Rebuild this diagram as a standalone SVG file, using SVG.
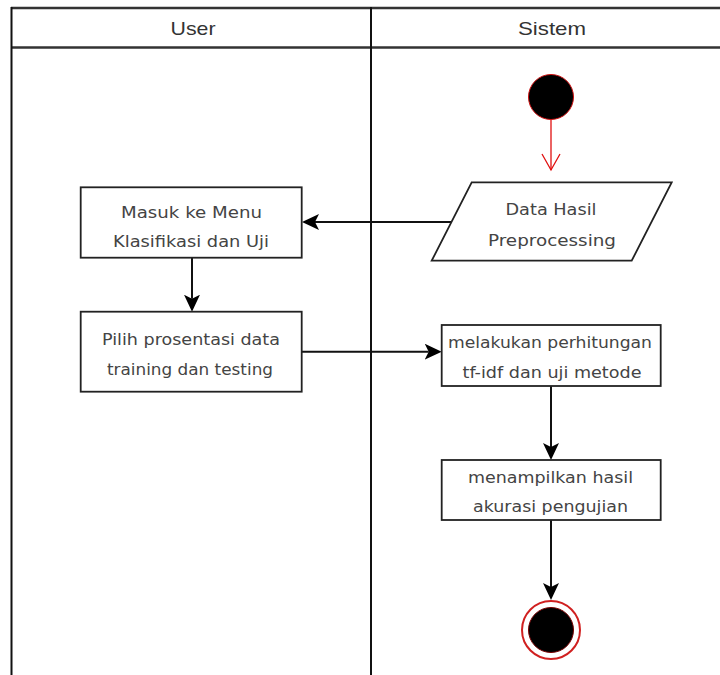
<svg xmlns="http://www.w3.org/2000/svg" width="720" height="675" viewBox="0 0 720 675">
<defs>
<style>
.lane{stroke:#111;stroke-width:2;fill:none}
.hdr{stroke:#333;stroke-width:2.5;fill:none}
.htxt{font-family:"Liberation Sans",Arial,sans-serif;font-size:19px;fill:#333;text-anchor:middle}
.box{fill:#fff;stroke:#222;stroke-width:1.8}
.txt{font-family:"DejaVu Sans",Verdana,sans-serif;font-size:15px;fill:#444;text-anchor:middle}
.conn{stroke:#111;stroke-width:2;fill:none}
</style>
<marker id="arr" markerUnits="userSpaceOnUse" markerWidth="19" markerHeight="18" refX="4" refY="8" orient="auto" viewBox="0 0 19 18">
<path d="M0,0 L17,8 L0,16 L4,8 Z" fill="#000"/>
</marker>
</defs>
<rect width="720" height="675" fill="#fff"/>
<g id="swimlanes">
<line class="hdr" x1="11" y1="8" x2="720" y2="8"/>
<line class="hdr" x1="11" y1="47.5" x2="720" y2="47.5"/>
<line class="lane" x1="11.5" y1="7" x2="11.5" y2="675"/>
<line class="lane" x1="371" y1="7" x2="371" y2="675"/>
<text class="htxt" x="193" y="35" textLength="45" lengthAdjust="spacingAndGlyphs">User</text>
<text class="htxt" x="552" y="35" textLength="68" lengthAdjust="spacingAndGlyphs">Sistem</text>
</g>
<g id="connectors">
<line x1="551" y1="119" x2="551" y2="170" stroke="#e01010" stroke-width="1.3"/>
<polyline points="542,154 551,170 560,154" fill="none" stroke="#e01010" stroke-width="1.3"/>
<path class="conn" d="M451.5,222 L315,222" marker-end="url(#arr)"/>
<path class="conn" d="M192,257.7 L192,298.7" marker-end="url(#arr)"/>
<path class="conn" d="M301.7,351.7 L428.7,351.7" marker-end="url(#arr)"/>
<path class="conn" d="M551,386 L551,447" marker-end="url(#arr)"/>
<path class="conn" d="M551,520 L551,587" marker-end="url(#arr)"/>
</g>
<g id="start">
<circle cx="551" cy="97" r="22.5" fill="#000" stroke="#d01010" stroke-width="1"/>
</g>
<g id="data-hasil">
<polygon class="box" points="471.7,182.3 671.7,182.3 631.7,260.7 431.7,260.7"/>
<text class="txt" x="551" y="215" textLength="91" lengthAdjust="spacingAndGlyphs">Data Hasil</text>
<text class="txt" x="552" y="246" textLength="128" lengthAdjust="spacingAndGlyphs">Preprocessing</text>
</g>
<g id="masuk-menu">
<rect class="box" x="80.7" y="187.3" width="221" height="70.4"/>
<text class="txt" x="191.5" y="218" textLength="141" lengthAdjust="spacingAndGlyphs">Masuk ke Menu</text>
<text class="txt" x="191" y="247" textLength="156" lengthAdjust="spacingAndGlyphs">Klasifikasi dan Uji</text>
</g>
<g id="pilih-prosentasi">
<rect class="box" x="80.7" y="311.7" width="221" height="80"/>
<text class="txt" x="191" y="345" textLength="178" lengthAdjust="spacingAndGlyphs">Pilih prosentasi data</text>
<text class="txt" x="190" y="375" textLength="166" lengthAdjust="spacingAndGlyphs">training dan testing</text>
</g>
<g id="perhitungan">
<rect class="box" x="441.7" y="325" width="219" height="61"/>
<text class="txt" x="550" y="348" textLength="204" lengthAdjust="spacingAndGlyphs">melakukan perhitungan</text>
<text class="txt" x="552" y="378" textLength="179" lengthAdjust="spacingAndGlyphs">tf-idf dan uji metode</text>
</g>
<g id="menampilkan">
<rect class="box" x="441.7" y="460" width="219" height="60"/>
<text class="txt" x="550.5" y="483" textLength="165" lengthAdjust="spacingAndGlyphs">menampilkan hasil</text>
<text class="txt" x="550.5" y="512" textLength="155" lengthAdjust="spacingAndGlyphs">akurasi pengujian</text>
</g>
<g id="end">
<circle cx="551" cy="630" r="29" fill="#fff" stroke="#d02020" stroke-width="2"/>
<circle cx="551" cy="630" r="22.5" fill="#000" stroke="#700" stroke-width="1"/>
</g>
</svg>
